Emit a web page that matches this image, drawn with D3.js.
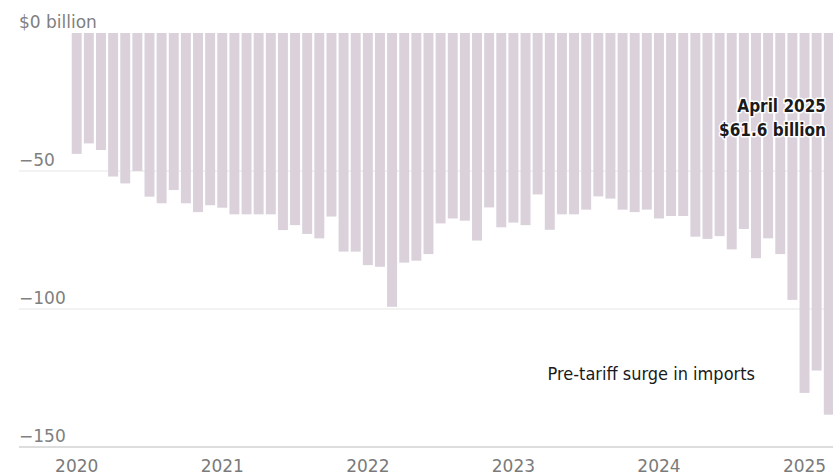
<!DOCTYPE html>
<html>
<head>
<meta charset="utf-8">
<script src="https://cdn.jsdelivr.net/npm/d3@7"></script>
<style>
  html, body { margin: 0; padding: 0; background: #fff; overflow: hidden; }
  svg { display: block; }
</style>
</head>
<body>
<svg id="chart" width="833" height="476"></svg>
<script>
// Monthly US trade balance, Jan 2020 – Apr 2025 ($ billion)
const months = [];
for (let y = 2020; y <= 2025; y++) {
  for (let m = 1; m <= 12; m++) {
    if (y === 2025 && m > 4) break;
    months.push(`${y}-${String(m).padStart(2, "0")}`);
  }
}
const balance = [
  -43.8, -40.0, -42.4, -52.0, -54.5, -50.0, -59.3, -61.7, -56.9, -61.7, -64.9, -62.4,
  -63.3, -65.7, -65.7, -65.7, -65.7, -71.4, -69.6, -72.8, -74.4, -66.5, -79.2, -79.2,
  -84.1, -84.7, -99.2, -83.2, -82.5, -80.1, -69.0, -67.2, -68.0, -75.2, -63.2, -70.4,
  -68.7, -69.6, -58.5, -71.3, -65.7, -65.7, -64.0, -59.2, -60.0, -64.0, -64.9, -64.0,
  -67.2, -66.3, -66.3, -73.8, -74.6, -73.6, -78.4, -71.0, -81.6, -74.4, -80.1, -96.7,
  -130.4, -122.3, -138.3, -61.6
];
const yTicks = [0, -50, -100, -150];
const yTickLabels = ["$0 billion", "\u221250", "\u2212100", "\u2212150"];
const yearLabels = ["2020", "2021", "2022", "2023", "2024", "2025"];
const calloutLines = ["April 2025", "$61.6 billion"];
const surgeNote = "Pre-tariff surge in imports";

const data = months.map((m, i) => ({ month: m, value: balance[i] }));

const svg = d3.select("#chart");
const W = 833;

const x = d3.scaleBand()
  .domain(months)
  .range([70.65, 70.65 + 64 * 12.13])
  .paddingInner(0.18)
  .paddingOuter(0.09);

const y = d3.scaleLinear().domain([0, -150]).range([33, 447]);

const labelFont = "'DejaVu Sans', sans-serif";
const annoFont = "'DejaVu Sans Condensed', 'DejaVu Sans', sans-serif";

// gridlines (behind bars)
svg.append("g").selectAll("line")
  .data(yTicks.filter(t => t !== 0 && t !== -150))
  .join("line")
  .attr("x1", 19).attr("x2", W)
  .attr("y1", d => y(d)).attr("y2", d => y(d))
  .attr("stroke", "#e6e6e6").attr("stroke-width", 1);

// bars
svg.append("g").selectAll("rect")
  .data(data)
  .join("rect")
  .attr("x", d => x(d.month))
  .attr("width", x.bandwidth())
  .attr("y", y(0))
  .attr("height", d => y(d.value) - y(0))
  .attr("fill", "#dad1db");

// baseline at -150
svg.append("line")
  .attr("x1", 19).attr("x2", W)
  .attr("y1", y(-150)).attr("y2", y(-150))
  .attr("stroke", "#dddddd").attr("stroke-width", 2);

// y tick labels
svg.append("g").selectAll("text")
  .data(yTicks)
  .join("text")
  .attr("x", 19)
  .attr("y", d => y(d) - 5)
  .attr("font-family", labelFont)
  .attr("font-size", 17)
  .attr("fill", "#808080")
  .text((d, i) => yTickLabels[i]);

// x year labels
svg.append("g").selectAll("text")
  .data(yearLabels)
  .join("text")
  .attr("x", d => x(`${d}-01`) + x.bandwidth() / 2)
  .attr("y", 472)
  .attr("text-anchor", "middle")
  .attr("font-family", labelFont)
  .attr("font-size", 17)
  .attr("fill", "#7a7a7a")
  .text(d => d);

// callout
svg.append("g").selectAll("text")
  .data(calloutLines)
  .join("text")
  .attr("x", 826)
  .attr("y", (d, i) => 112 + i * 24)
  .attr("text-anchor", "end")
  .attr("font-family", annoFont)
  .attr("font-weight", "bold")
  .attr("font-size", 17)
  .attr("fill", "#1a1a1a")
  .attr("stroke", "#ffffff")
  .attr("stroke-width", 3)
  .attr("stroke-linejoin", "round")
  .attr("paint-order", "stroke")
  .text(d => d);

// surge note
svg.append("text")
  .attr("x", 755)
  .attr("y", 380)
  .attr("text-anchor", "end")
  .attr("font-family", annoFont)
  .attr("font-size", 18)
  .attr("fill", "#1a1a1a")
  .attr("stroke", "#ffffff")
  .attr("stroke-width", 3)
  .attr("stroke-linejoin", "round")
  .attr("paint-order", "stroke")
  .text(surgeNote);
</script>
</body>
</html>
